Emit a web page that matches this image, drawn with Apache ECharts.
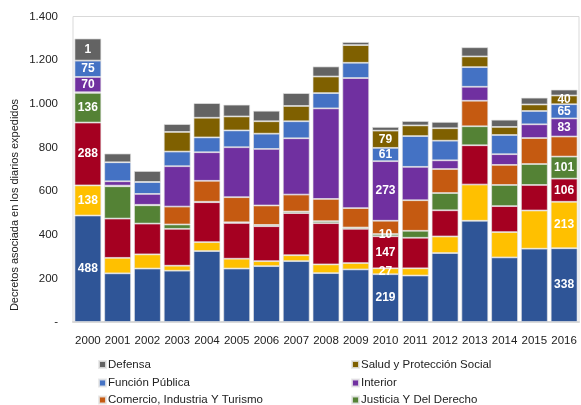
<!DOCTYPE html>
<html>
<head>
<meta charset="utf-8">
<script src="https://cdn.jsdelivr.net/npm/echarts@6/dist/echarts.min.js"></script>
<style>
html,body{margin:0;padding:0;background:#fff;}
#c{width:581px;height:405px;}
</style>
</head>
<body>
<div id="c"></div>
<script>
// ---- data ----
const years = ['2000','2001','2002','2003','2004','2005','2006','2007','2008','2009','2010','2011','2012','2013','2014','2015','2016'];
const yTicks = [0, 200, 400, 600, 800, 1000, 1200, 1400];

const otros1   = [488,223,245,235,325,245,256,279,224,241,219,213,316,464,296,336,338];
const otros2   = [138, 71, 65, 23, 41, 45, 23, 27, 40, 29, 27, 33, 76,166,116,175,213];
const otros3   = [288,180,141,169,183,164,160,193,189,157,147,140,120,180,119,117,106];
const justicia = [136,148, 84, 20,  2,  3,  6,  7,  9,  6, 10, 32, 79, 87, 97, 96,101];
const comercio = [  3,  3,  2, 82, 96,115, 89, 78,102, 89, 61,140,110,117, 92,119, 92];
const interior = [ 70, 20, 50,185,131,229,259,258,415,596,273,153, 40, 64, 49, 63, 83];
const funcion  = [ 75, 87, 55, 67, 68, 77, 70, 78, 70, 70, 61,141, 90, 90, 88, 61, 65];
const salud    = [  0,  0,  0, 90, 90, 64, 57, 70, 76, 81, 79, 49, 57, 49, 37, 30, 40];
const defensa  = [101, 40, 50, 36, 67, 54, 48, 59, 46, 14, 17, 20, 29, 42, 33, 31, 27];

// label texts shown on segments (null = no label)
const otros1Labels   = ['488',null,null,null,null,null,null,null,null,null,'219',null,null,null,null,null,'338'];
const otros2Labels   = ['138',null,null,null,null,null,null,null,null,null,'27',null,null,null,null,null,'213'];
const otros3Labels   = ['288',null,null,null,null,null,null,null,null,null,'147',null,null,null,null,null,'106'];
const justiciaLabels = ['136',null,null,null,null,null,null,null,null,null,'10',null,null,null,null,null,'101'];
const interiorLabels = ['70',null,null,null,null,null,null,null,null,null,'273',null,null,null,null,null,'83'];
const funcionLabels  = ['75',null,null,null,null,null,null,null,null,null,'61',null,null,null,null,null,'65'];
const saludLabels    = [null,null,null,null,null,null,null,null,null,null,'79',null,null,null,null,null,'40'];
const defensaLabels  = ['1',null,null,null,null,null,null,null,null,null,null,null,null,null,null,null,null];
const noLabels       = years.map(() => null);

const legendLeft  = ['Defensa', 'Función Pública', 'Comercio, Industria Y Turismo'];
const legendRight = ['Salud y Protección Social', 'Interior', 'Justicia Y Del Derecho'];

// ---- build ----
const FONT = '"Liberation Sans", Arial, sans-serif';
function mk(name, values, labels, color) {
  return {
    name: name,
    type: 'bar',
    stack: 'total',
    barCategoryGap: '10%',
    itemStyle: { color: color, borderColor: 'rgba(230,230,230,0.85)', borderWidth: 0.8 },
    data: values.map((v, i) => ({
      value: v,
      label: labels[i] !== null ? {
        show: true, position: 'inside', formatter: labels[i],
        color: '#fff', fontWeight: 'bold', fontSize: 12, fontFamily: FONT
      } : { show: false }
    })),
    emphasis: { disabled: true }
  };
}

const series = [
  mk('Otros 1', otros1, otros1Labels, '#2F5597'),
  mk('Otros 2', otros2, otros2Labels, '#FFC000'),
  mk('Otros 3', otros3, otros3Labels, '#A50021'),
  mk('Justicia Y Del Derecho', justicia, justiciaLabels, '#548235'),
  mk('Comercio, Industria Y Turismo', comercio, noLabels, '#C55A11'),
  mk('Interior', interior, interiorLabels, '#7030A0'),
  mk('Función Pública', funcion, funcionLabels, '#4472C4'),
  mk('Salud y Protección Social', salud, saludLabels, '#7F6000'),
  mk('Defensa', defensa, defensaLabels, '#636363')
];

const rowTops = [353.5, 372, 389];
function oneLegend(name, left, row) {
  return {
    orient: 'horizontal',
    left: left, top: rowTops[row],
    padding: 5,
    itemWidth: 7, itemHeight: 7,
    icon: 'rect',
    selectedMode: false,
    data: [name],
    textStyle: { fontSize: 11.5, color: '#222', fontFamily: FONT, padding: [0,0,0,-3] }
  };
}
const legends = [];
legendLeft.forEach((n, i) => legends.push(oneLegend(n, 93, i)));
legendRight.forEach((n, i) => legends.push(oneLegend(n, 346, i)));

const chart = echarts.init(document.getElementById('c'), null, { renderer: 'canvas' });
chart.setOption({
  animation: false,
  backgroundColor: '#fff',
  textStyle: { fontFamily: FONT },
  grid: { left: 73, right: 2, top: 16.5, bottom: 83, show: true, borderColor: '#d9d9d9', borderWidth: 1, backgroundColor: 'transparent', containLabel: false },
  legend: legends,
  xAxis: {
    type: 'category',
    data: years,
    axisLine: { show: true, lineStyle: { color: '#d9d9d9', width: 2 } },
    axisTick: { show: false },
    axisLabel: { fontSize: 11.5, color: '#222', margin: 13, fontFamily: FONT, interval: 0 },
    splitLine: { show: false }
  },
  yAxis: {
    type: 'value',
    min: yTicks[0], max: yTicks[yTicks.length - 1], interval: 200,
    axisLine: { show: false },
    axisTick: { show: false },
    splitLine: { show: false },
    axisLabel: {
      fontSize: 11.5, color: '#222', margin: 15, fontFamily: FONT,
      formatter: v => v === 0 ? '-' : v.toLocaleString('de-DE')
    }
  },
  graphic: [{
    type: 'text',
    x: 15, y: 205,
    rotation: Math.PI / 2,
    style: {
      text: 'Decretos asociada en los diarios expedidos',
      fontSize: 11, fill: '#222', fontFamily: FONT,
      align: 'center', verticalAlign: 'middle'
    }
  }],
  series: series
});
</script>
</body>
</html>
